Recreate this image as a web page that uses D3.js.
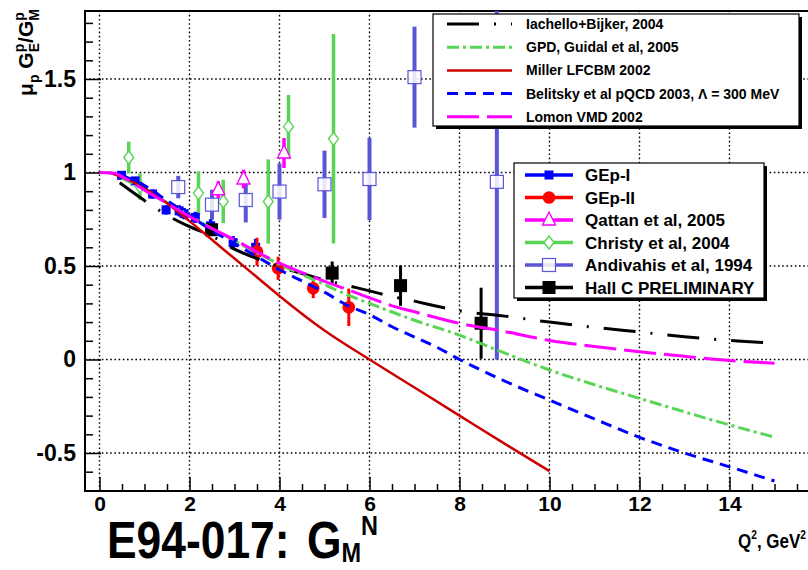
<!DOCTYPE html>
<html><head><meta charset="utf-8">
<script src="https://cdn.jsdelivr.net/npm/d3@7"></script>
<style>
body{margin:0;background:#fff;}
svg{display:block;}
text{font-family:"Liberation Sans",Arial,Helvetica,sans-serif;font-weight:bold;fill:#000;white-space:pre;}
</style>
</head><body>
<svg id="c" width="808" height="570"></svg>
<script>
// ---------------- data ----------------
const xTicks = [0, 2, 4, 6, 8, 10, 12, 14];
const yTicks = [-0.5, 0, 0.5, 1, 1.5];

// theory curves (Q^2 in GeV^2, mu_p GE/GM)
const iachelloQ = [0.45,1,1.5,2,2.5,3,3.5,4,4.5,5,5.5,6,6.5,7,7.5,8,9,10,11,12,13,14,15];
const iachelloR = [0.945,0.85,0.772,0.71,0.66,0.59,0.54,0.495,0.46,0.426,0.396,0.367,0.337,0.312,0.285,0.26,0.232,0.2,0.172,0.147,0.122,0.102,0.088];
const gpdQ = [0.5,1,1.5,2,2.5,3,3.5,4,4.5,5,5.5,6,7,8,9,10,11,12,13,14,15];
const gpdR = [0.97,0.91,0.84,0.77,0.70,0.635,0.57,0.51,0.455,0.40,0.347,0.30,0.21,0.13,0.035,-0.056,-0.135,-0.208,-0.28,-0.35,-0.415];
const millerQ = [0.2,0.5,1,1.5,2,2.5,3,3.5,4,5,6,7,8,9,10];
const millerR = [1.0,0.975,0.915,0.835,0.74,0.64,0.54,0.44,0.34,0.155,0.0,-0.15,-0.3,-0.45,-0.597];
const belitskyQ = [0.5,1,1.5,2,2.5,3,3.5,4,4.5,5,5.5,6,6.5,7,7.5,8,9,10,11,12,13,14,15];
const belitskyR = [0.985,0.93,0.85,0.77,0.69,0.62,0.55,0.48,0.42,0.36,0.29,0.24,0.175,0.12,0.065,0.0,-0.115,-0.217,-0.318,-0.416,-0.50,-0.574,-0.65];
const lomonQ = [0,0.3,0.6,1,1.5,2,2.5,3,3.5,4,4.5,5,5.5,6,6.5,7,8,9,10,11,12,13,14,15];
const lomonR = [1.0,0.997,0.965,0.905,0.835,0.765,0.70,0.64,0.575,0.515,0.465,0.418,0.375,0.33,0.287,0.255,0.193,0.15,0.102,0.07,0.042,0.017,-0.005,-0.02];

// data sets
const gep1Q = [0.49,0.79,1.18,1.48,1.77,1.88,2.13,2.47,2.97,3.47];
const gep1R = [0.985,0.955,0.885,0.80,0.795,0.78,0.76,0.715,0.625,0.60];
const gep1E = [0.02,0.02,0.025,0.025,0.03,0.03,0.03,0.035,0.035,0.045];
const gep2Q = [3.5,3.97,4.75,5.54];
const gep2R = [0.576,0.488,0.381,0.279];
const gep2E = [0.075,0.062,0.053,0.1];
const qattanQ = [2.64,3.2,4.1];
const qattanR = [0.908,0.965,1.104];
const qattanE = [0.045,0.05,0.08];
const christyQ = [0.65,0.9,2.2,2.75,3.75,4.2,5.2];
const christyR = [1.08,0.925,0.89,0.845,0.845,1.245,1.18];
const christyE = [0.085,0.07,0.116,0.116,0.225,0.17,0.56];
const andiQ = [1.75,2.5,3.25,4.0,5.0,6.0,7.0,8.83];
const andiR = [0.922,0.828,0.853,0.898,0.937,0.965,1.51,0.95];
const andiE = [0.06,0.08,0.12,0.15,0.18,0.22,0.27,0.95];
const hallQ = [2.49,5.17,6.69,8.48];
const hallR = [0.694,0.462,0.395,0.194];
const hallE = [0.03,0.062,0.108,0.19];

const curveNames = ["Iachello+Bijker, 2004","GPD, Guidal et al, 2005","Miller LFCBM 2002","Belitsky et al pQCD 2003, \u039B = 300 MeV","Lomon VMD 2002"];
const dataNames = ["GEp-I","GEp-II","Qattan et al, 2005","Christy et al, 2004","Andivahis et al, 1994","Hall C PRELIMINARY"];

// ---------------- layout ----------------
const svg = d3.select("#c");
const F = {left:85, top:11, right:820, bottom:491};
const x = d3.scaleLinear().domain([0,15]).range([99.5,774.5]);
const y = d3.scaleLinear().domain([0,1]).range([359.5,172.5]);

svg.append("rect").attr("width",808).attr("height",570).attr("fill","#fff");
svg.append("defs").append("clipPath").attr("id","fr")
  .append("rect").attr("x",F.left).attr("y",F.top).attr("width",F.right-F.left).attr("height",F.bottom-F.top);

// grid
const grid = svg.append("g").attr("stroke","#000").attr("stroke-width",1.4).attr("stroke-dasharray","1.6,2.6");
xTicks.forEach(v=>grid.append("line").attr("x1",x(v)).attr("x2",x(v)).attr("y1",F.bottom).attr("y2",F.top));
yTicks.forEach(v=>grid.append("line").attr("x1",F.left).attr("x2",F.right).attr("y1",y(v)).attr("y2",y(v)));

// frame
svg.append("rect").attr("x",F.left).attr("y",F.top).attr("width",F.right-F.left).attr("height",F.bottom-F.top)
  .attr("fill","none").attr("stroke","#000").attr("stroke-width",2);

// axes
const xMinor = d3.range(0, 15.6, 0.5).filter(v=>!xTicks.includes(v));
const yMinor = d3.range(-7, 19, 1).map(v=>v/10).filter(v=>!yTicks.some(t=>Math.abs(t-v)<1e-9));
const gx = svg.append("g").attr("transform",`translate(0,${F.bottom})`);
gx.call(d3.axisBottom(x).tickValues(xTicks).tickSize(-14).tickPadding(5).tickFormat(d=>String(d)));
const gxm = svg.append("g").attr("transform",`translate(0,${F.bottom})`);
gxm.call(d3.axisBottom(x).tickValues(xMinor).tickSize(-7).tickFormat(""));
const gy = svg.append("g").attr("transform",`translate(${F.left},0)`);
gy.call(d3.axisLeft(y).tickValues(yTicks).tickSize(-16).tickPadding(9).tickFormat(d=>String(d)));
const gym = svg.append("g").attr("transform",`translate(${F.left},0)`);
gym.call(d3.axisLeft(y).tickValues(yMinor).tickSize(-8).tickFormat(""));
[gx,gxm,gy,gym].forEach(g=>{g.select(".domain").remove(); g.selectAll("line").attr("stroke","#000").attr("stroke-width",1.5);});
gx.selectAll("text").attr("font-size",21).attr("font-family","Liberation Sans").attr("font-weight","bold").attr("fill","#000");
gy.selectAll("text").attr("font-size",23).attr("font-family","Liberation Sans").attr("font-weight","bold").attr("fill","#000");

// ---------------- data points ----------------
const plot = svg.append("g").attr("clip-path","url(#fr)");
function errBars(Q,R,E,color,w){
  const g = plot.append("g").attr("stroke",color).attr("stroke-width",w);
  Q.forEach((q,i)=>g.append("line").attr("x1",x(q)).attr("x2",x(q)).attr("y1",y(R[i]-E[i])).attr("y2",y(R[i]+E[i])));
}
function marker(g,type,cx,cy,color){
  if(type==="fsq") g.append("rect").attr("x",cx-4.5).attr("y",cy-4.5).attr("width",9).attr("height",9).attr("fill",color);
  if(type==="bsq") g.append("rect").attr("x",cx-6.5).attr("y",cy-6.5).attr("width",13).attr("height",13).attr("fill",color);
  if(type==="circ") g.append("circle").attr("cx",cx).attr("cy",cy).attr("r",6.3).attr("fill",color);
  if(type==="tri") g.append("path").attr("d",`M${cx},${cy-8}L${cx+6.5},${cy+5}L${cx-6.5},${cy+5}Z`).attr("fill","#fff").attr("stroke",color).attr("stroke-width",1.4);
  if(type==="dia") g.append("path").attr("d",`M${cx},${cy-6.5}L${cx+5},${cy}L${cx},${cy+6.5}L${cx-5},${cy}Z`).attr("fill","#fff").attr("stroke",color).attr("stroke-width",1.4);
  if(type==="osq") g.append("rect").attr("x",cx-6.5).attr("y",cy-6.5).attr("width",13).attr("height",13).attr("fill","#fff").attr("fill-opacity",0.85).attr("stroke",color).attr("stroke-width",1.2);
}
function points(Q,R,type,color){
  const g = plot.append("g");
  Q.forEach((q,i)=>marker(g,type,x(q),y(R[i]),color));
}
const cGreen = "#59d454", cSlate = "#5954d8";
errBars(christyQ,christyR,christyE,cGreen,3.5); points(christyQ,christyR,"dia",cGreen);
errBars(andiQ,andiR,andiE,cSlate,4); points(andiQ,andiR,"osq",cSlate);
errBars(qattanQ,qattanR,qattanE,"#ff00ff",3.5); points(qattanQ,qattanR,"tri","#ff00ff");
errBars(gep1Q,gep1R,gep1E,"#0000ff",3.5); points(gep1Q,gep1R,"fsq","#0000ff");
errBars(hallQ,hallR,hallE,"#000",3); points(hallQ,hallR,"bsq","#000");
errBars(gep2Q,gep2R,gep2E,"#ff0000",3); points(gep2Q,gep2R,"circ","#ff0000");

// ---------------- curves ----------------
const line = d3.line().x(d=>x(d[0])).y(d=>y(d[1])).curve(d3.curveMonotoneX);
const curves = [
  {Q:iachelloQ,R:iachelloR,c:"#000",w:3,dash:"32,15,2,15"},
  {Q:gpdQ,R:gpdR,c:cGreen,w:3,dash:"12,4,3,4"},
  {Q:millerQ,R:millerR,c:"#cc0000",w:2.5,dash:null},
  {Q:belitskyQ,R:belitskyR,c:"#0000ff",w:3,dash:"11,7"},
  {Q:lomonQ,R:lomonR,c:"#ff00ff",w:3,dash:"32,8"}
];
curves.forEach(cv=>{
  plot.append("path").attr("d",line(cv.Q.map((q,i)=>[q,cv.R[i]])))
    .attr("fill","none").attr("stroke",cv.c).attr("stroke-width",cv.w)
    .attr("stroke-dasharray",cv.dash);
});

// ---------------- legends ----------------
function box(x0,y0,x1,y1){
  svg.append("rect").attr("x",x0+3).attr("y",y0+3).attr("width",x1-x0).attr("height",y1-y0).attr("fill","#000");
  svg.append("rect").attr("x",x0).attr("y",y0).attr("width",x1-x0).attr("height",y1-y0).attr("fill","#fff").attr("stroke","#000").attr("stroke-width",1.2);
}
box(433,14,799,126);
curves.forEach((cv,i)=>{
  const yy = 24 + i*23.2;
  svg.append("line").attr("x1",447).attr("x2",512).attr("y1",yy).attr("y2",yy)
    .attr("stroke",cv.c).attr("stroke-width",cv.w).attr("stroke-dasharray",cv.dash);
  svg.append("text").attr("x",526).attr("y",yy+5).attr("font-size",14).text(curveNames[i]);
});
box(514,163,764,298);
const legSets = [
  {c:"#0000ff",t:"fsq"},{c:"#ff0000",t:"circ"},{c:"#ff00ff",t:"tri"},{c:cGreen,t:"dia"},{c:cSlate,t:"osq"},{c:"#000",t:"bsq"}
];
legSets.forEach((L,i)=>{
  const yy = 175 + i*22.5;
  svg.append("line").attr("x1",525).attr("x2",573).attr("y1",yy).attr("y2",yy).attr("stroke",L.c).attr("stroke-width",3.5);
  marker(svg.append("g"),L.t,549,yy,L.c);
  svg.append("text").attr("x",585).attr("y",yy+6).attr("font-size",17).text(dataNames[i]);
});

// ---------------- titles ----------------
// y-axis title (rotated)
const yt = svg.append("g").attr("transform","translate(33,9) rotate(-90)");
const ytext = yt.append("text").attr("text-anchor","end").attr("font-size",21);
ytext.append("tspan").text("\u03BC");
ytext.append("tspan").attr("font-size",14).attr("dy",6).text("p");
ytext.append("tspan").attr("dy",-6).text(" G");
ytext.append("tspan").attr("font-size",14).attr("dy",-9).text("p");
ytext.append("tspan").attr("font-size",14).attr("dx",-8.5).attr("dy",15).text("E");
ytext.append("tspan").attr("dy",-6).text("/G");
ytext.append("tspan").attr("font-size",14).attr("dy",-9).text("p");
ytext.append("tspan").attr("font-size",14).attr("dx",-8.5).attr("dy",15).text("M");

// x-axis title
const xt = svg.append("text").attr("text-anchor","end").attr("font-size",20).attr("transform","translate(806,548) scale(0.85,1)");
xt.append("tspan").text("Q");
xt.append("tspan").attr("font-size",12).attr("dy",-9).text("2");
xt.append("tspan").attr("dy",9).text(", GeV");
xt.append("tspan").attr("font-size",12).attr("dy",-9).text("2");

// big title
const bt = svg.append("text").attr("font-size",51).attr("transform","translate(107,558) scale(0.87,1)");
bt.append("tspan").text("E94-017:");
bt.append("tspan").attr("dx",20).text("G");
bt.append("tspan").attr("font-size",27).attr("dy",4).text("M");
bt.append("tspan").attr("font-size",27).attr("dy",-27).text("N");
</script>
</body></html>
